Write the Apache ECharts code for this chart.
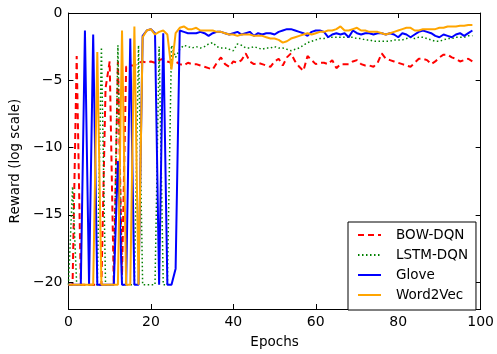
<!DOCTYPE html>
<html><head><meta charset="utf-8">
<script src="https://cdn.jsdelivr.net/npm/echarts@6/dist/echarts.min.js"></script>
<style>html,body{margin:0;padding:0;background:#fff}#c{width:497px;height:354px}</style>
</head><body><div id="c"></div>
<script>
const epochs = [0,1,2,3,4,5,6,7,8,9,10,11,12,13,14,15,16,17,18,19,20,21,22,23,24,25,26,27,28,29,30,31,32,33,34,35,36,37,38,39,40,41,42,43,44,45,46,47,48,49,50,51,52,53,54,55,56,57,58,59,60,61,62,63,64,65,66,67,68,69,70,71,72,73,74,75,76,77,78,79,80,81,82,83,84,85,86,87,88,89,90,91,92,93,94,95,96,97,98];

const bowDqn = [
-20.2,-20.2,-3.2,-20.2,-20.2,-20.2,-20.2,-20.2,-20.2,-5.6,
-3.6,-20.2,-3.6,-19.5,-4.0,-3.9,-3.9,-3.7,-3.6,-3.7,
-3.6,-3.7,-3.5,-3.4,-3.6,-3.7,-3.6,-3.8,-3.9,-3.7,
-3.8,-3.8,-3.9,-4.0,-4.1,-4.2,-3.7,-3.3,-3.8,-4.0,
-3.6,-3.7,-3.5,-3.0,-3.6,-3.8,-3.7,-3.8,-3.9,-4.0,
-3.6,-3.4,-3.9,-3.3,-3.0,-3.6,-4.0,-4.3,-3.2,-3.5,
-3.8,-3.7,-3.7,-3.8,-3.5,-4.1,-3.8,-3.8,-3.8,-3.6,
-3.5,-3.8,-3.9,-3.9,-4.0,-3.7,-3.0,-3.4,-3.5,-3.6,
-3.7,-3.8,-3.9,-4.0,-3.7,-3.4,-3.4,-3.5,-3.8,-3.6,
-3.3,-3.1,-3.1,-3.3,-3.4,-3.6,-3.5,-3.4,-3.6];

const lstmDqn = [
-20.2,-12.9,-20.2,-20.2,-20.2,-20.2,-20.2,-20.2,-2.55,-20.2,
-20.2,-20.2,-2.4,-20.2,-20.2,-20.2,-20.2,-2.4,-20.2,-20.2,
-20.2,-20.2,-2.5,-20.2,-20.2,-2.4,-3.3,-2.7,-2.4,-2.5,
-2.6,-2.5,-2.6,-2.5,-2.3,-2.2,-2.5,-2.6,-2.6,-2.7,
-2.8,-2.3,-2.4,-2.6,-2.6,-2.5,-2.6,-2.7,-2.6,-2.6,
-2.5,-2.6,-2.6,-2.7,-2.8,-2.7,-2.6,-2.4,-2.2,-2.1,
-2.0,-1.9,-1.9,-1.8,-1.8,-1.8,-1.8,-1.8,-1.8,-1.8,
-1.9,-1.9,-2.0,-2.0,-2.1,-2.1,-2.1,-2.1,-2.1,-2.0,
-2.0,-2.0,-1.9,-1.8,-1.9,-1.8,-1.8,-1.9,-2.0,-2.1,
-2.1,-2.0,-1.9,-1.9,-1.8,-1.8,-1.8,-1.7,-1.7];

const glove = [
-20.2,-20.2,-20.2,-20.2,-1.3,-20.2,-1.6,-20.2,-20.2,-20.2,
-20.2,-20.2,-11.0,-20.2,-20.2,-1.9,-20.2,-20.2,-1.7,-1.3,
-1.2,-1.5,-20.2,-1.5,-20.2,-20.2,-19.0,-1.3,-1.4,-1.5,
-1.5,-1.5,-1.4,-1.5,-1.7,-1.5,-1.4,-1.4,-1.5,-1.6,
-1.5,-1.4,-1.6,-1.5,-1.4,-1.7,-1.5,-1.6,-1.5,-1.5,
-1.6,-1.4,-1.3,-1.2,-1.2,-1.3,-1.4,-1.5,-1.7,-1.4,
-1.3,-1.3,-1.4,-1.8,-1.6,-1.5,-1.6,-1.5,-1.8,-1.3,
-1.5,-1.6,-1.5,-1.5,-1.6,-1.5,-1.5,-1.6,-1.5,-1.6,
-1.8,-1.5,-1.6,-1.8,-1.6,-1.4,-1.3,-1.4,-1.5,-1.7,
-1.8,-1.6,-1.7,-1.8,-1.6,-1.5,-1.7,-1.5,-1.3];

const word2vec = [
-20.2,-20.2,-20.2,-20.2,-20.2,-20.2,-20.2,-2.9,-20.2,-20.2,
-20.2,-20.2,-20.2,-1.3,-20.2,-20.2,-1.0,-20.2,-1.8,-1.3,
-1.2,-1.6,-1.4,-1.3,-1.6,-4.2,-1.5,-1.1,-1.0,-1.2,
-1.2,-1.1,-1.3,-1.3,-1.3,-1.3,-1.4,-1.4,-1.5,-1.6,
-1.6,-1.7,-1.6,-1.6,-1.6,-1.7,-1.7,-1.7,-1.8,-1.9,
-1.9,-2.0,-2.2,-2.1,-1.9,-1.8,-1.7,-1.6,-1.5,-1.6,
-1.5,-1.4,-1.4,-1.3,-1.3,-1.2,-1.0,-1.3,-1.3,-1.2,
-1.1,-1.3,-1.3,-1.4,-1.4,-1.4,-1.5,-1.6,-1.5,-1.4,
-1.3,-1.2,-1.1,-1.1,-1.3,-1.3,-1.2,-1.2,-1.2,-1.2,
-1.1,-1.1,-1.0,-1.0,-1.0,-0.95,-0.95,-0.9,-0.9];

const seriesNames = ['BOW-DQN','LSTM-DQN','Glove','Word2Vec'];
const yTicks = [0,-5,-10,-15,-20];
const xTicks = [0,20,40,60,80,100];

const FONT = 'DejaVu Sans';
const pairs = arr => arr.map((v,i) => [epochs[i], v]);
const minus = v => String(v).replace('-', '\u2212');

const chart = echarts.init(document.getElementById('c'), null, {renderer:'canvas'});
const axisLine = {show:true, onZero:false, lineStyle:{color:'#000', width:1}};
const tick = {show:true, inside:true, length:5, lineStyle:{color:'#000', width:1}};

chart.setOption({
  animation:false,
  backgroundColor:'#fff',
  grid:{left:65, right:15, top:13, bottom:39, containLabel:false},
  xAxis:[
    {type:'value', min:0, max:100, interval:20, position:'bottom',
     axisLine:axisLine, axisTick:Object.assign({customValues:xTicks}, tick), splitLine:{show:false},
     axisLabel:{customValues:xTicks, color:'#000', fontFamily:FONT, fontSize:14, margin:6},
     name:'Epochs', nameLocation:'middle', nameGap:26,
     nameTextStyle:{color:'#000', fontFamily:FONT, fontSize:13.5}},
    {type:'value', min:0, max:100, interval:20, position:'top',
     axisLine:axisLine, axisTick:Object.assign({customValues:xTicks}, tick), splitLine:{show:false}, axisLabel:{show:false}}
  ],
  yAxis:[
    {type:'value', min:-22, max:0, position:'left',
     axisLine:axisLine, axisTick:Object.assign({customValues:yTicks}, tick), splitLine:{show:false},
     axisLabel:{customValues:yTicks, color:'#000', fontFamily:FONT, fontSize:14, margin:6, formatter:minus},
     name:'Reward (log scale)', nameLocation:'middle', nameGap:38, nameRotate:90,
     nameTextStyle:{color:'#000', fontFamily:FONT, fontSize:13.5}},
    {type:'value', min:-22, max:0, position:'right',
     axisLine:axisLine, axisTick:Object.assign({customValues:yTicks}, tick), splitLine:{show:false},
     axisLabel:{show:false}}
  ],
  legend:{
    orient:'vertical', left:348, top:222,
    padding:[6,8,8,9], itemWidth:23, itemHeight:14, itemGap:6,
    backgroundColor:'#fff', borderColor:'#000', borderWidth:1, borderRadius:0,
    itemStyle:{opacity:0},
    textStyle:{color:'#000', fontFamily:FONT, fontSize:13.5, padding:[0,0,0,10]},
    data:seriesNames
  },
  series:[
    {name:seriesNames[0], type:'line', data:pairs(bowDqn), showSymbol:false, symbol:'none',
     lineStyle:{color:'#ff0000', width:2, type:[6,4]}, itemStyle:{color:'#ff0000'}},
    {name:seriesNames[1], type:'line', data:pairs(lstmDqn), showSymbol:false, symbol:'none',
     lineStyle:{color:'#008000', width:1.5, type:[1.5,2.5]}, itemStyle:{color:'#008000'}},
    {name:seriesNames[2], type:'line', data:pairs(glove), showSymbol:false, symbol:'none',
     lineStyle:{color:'#0000ff', width:2}, itemStyle:{color:'#0000ff'}},
    {name:seriesNames[3], type:'line', data:pairs(word2vec), showSymbol:false, symbol:'none',
     lineStyle:{color:'#ffa500', width:2}, itemStyle:{color:'#ffa500'}}
  ]
});
</script>
</body></html>
